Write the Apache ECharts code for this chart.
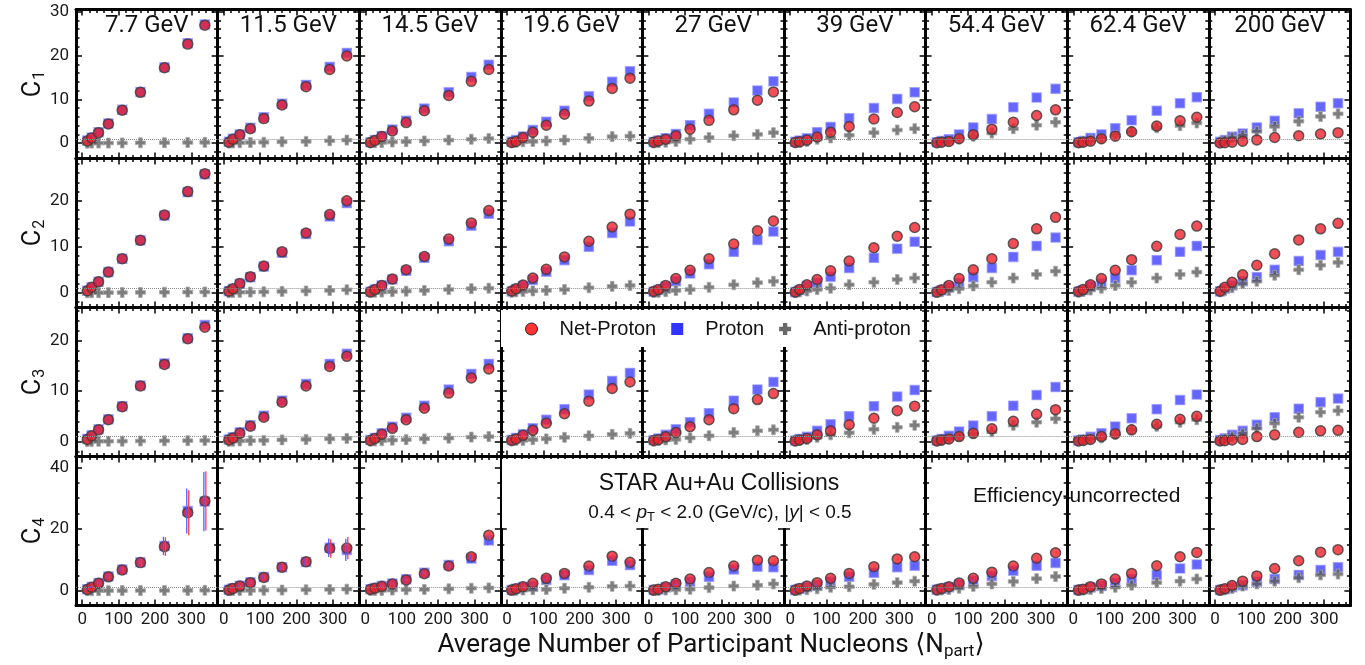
<!DOCTYPE html>
<html>
<head>
<meta charset="utf-8">
<title>STAR net-proton cumulants vs Npart</title>
<script src="https://cdn.jsdelivr.net/npm/echarts@6/dist/echarts.min.js"></script>
<style>
  html, body { margin: 0; padding: 0; background: #fff; }
  #chart { width: 1365px; height: 665px; }
</style>
</head>
<body>
<div id="chart"></div>
<script>
// collision energies (one column each)
const energies = ['7.7 GeV', '11.5 GeV', '14.5 GeV', '19.6 GeV', '27 GeV', '39 GeV', '54.4 GeV', '62.4 GeV', '200 GeV'];

// <Npart> for the 9 centralities (70-80% ... 0-5%)
const npart = [
  [14, 26, 45, 72, 110, 160, 226, 290, 337],
  [14, 25, 44, 73, 110, 160, 226, 291, 338],
  [14, 26, 45, 74, 112, 162, 229, 291, 339],
  [13, 25, 44, 71, 108, 158, 225, 289, 338],
  [14, 27, 47, 75, 114, 166, 234, 299, 343],
  [14, 26, 46, 74, 111, 162, 230, 294, 342],
  [14, 27, 47, 75, 114, 165, 224, 288, 340],
  [14, 27, 47, 77, 115, 160, 229, 293, 339],
  [14, 27, 47, 76, 115, 164, 230, 290, 338]
];

// C1
const netC1 = [
  [0.5, 1.2, 2.4, 4.4, 7.5, 11.6, 17.2, 22.6, 26.9],
  [0.2, 0.9, 1.9, 3.3, 5.6, 8.7, 12.9, 16.8, 19.9],
  [0.15, 0.6, 1.5, 2.8, 4.7, 7.4, 10.9, 14.1, 16.8],
  [0.15, 0.4, 1.3, 2.5, 4.1, 6.6, 9.6, 12.5, 14.8],
  [0.2, 0.5, 0.9, 1.7, 3.2, 5.2, 7.6, 9.8, 11.7],
  [0.15, 0.3, 0.7, 1.4, 2.5, 3.8, 5.5, 7.0, 8.3],
  [0.1, 0.2, 0.4, 1.0, 1.9, 3.2, 4.8, 6.3, 7.6],
  [0.1, 0.2, 0.45, 1.0, 1.6, 2.6, 3.9, 5.1, 5.9],
  [0.05, 0.1, 0.2, 0.45, 0.75, 1.3, 1.7, 2.1, 2.4]
];
const protC1 = [
  [0.6, 1.3, 2.5, 4.5, 7.6, 11.7, 17.3, 22.8, 27.1],
  [0.3, 1.0, 2.0, 3.5, 5.9, 9.0, 13.3, 17.4, 20.6],
  [0.2, 0.7, 1.6, 3.1, 5.1, 7.9, 11.6, 15.1, 17.9],
  [0.3, 0.7, 1.5, 3.0, 4.9, 7.4, 10.7, 14.0, 16.4],
  [0.25, 0.6, 1.1, 2.1, 4.1, 6.7, 9.3, 12.0, 14.1],
  [0.3, 0.6, 1.1, 2.5, 3.7, 5.7, 8.0, 10.1, 11.6],
  [0.2, 0.5, 0.9, 2.0, 3.6, 5.5, 8.2, 10.4, 12.4],
  [0.2, 0.5, 1.2, 2.0, 3.4, 5.2, 7.4, 9.1, 10.5],
  [0.3, 0.7, 1.5, 2.2, 3.6, 5.1, 6.8, 8.3, 9.1]
];
const antiC1 = [
  [0.0, 0.01, 0.02, 0.03, 0.05, 0.08, 0.12, 0.15, 0.18],
  [0.02, 0.05, 0.1, 0.15, 0.2, 0.3, 0.4, 0.55, 0.7],
  [0.05, 0.1, 0.15, 0.25, 0.35, 0.5, 0.7, 0.9, 1.05],
  [0.1, 0.2, 0.3, 0.4, 0.5, 0.7, 1.1, 1.5, 1.6],
  [0.05, 0.1, 0.2, 0.4, 0.9, 1.3, 1.7, 2.0, 2.4],
  [0.1, 0.2, 0.4, 0.9, 1.2, 1.8, 2.4, 3.0, 3.3],
  [0.1, 0.3, 0.5, 1.0, 1.6, 2.3, 3.3, 4.1, 4.8],
  [0.1, 0.3, 0.7, 1.0, 1.8, 2.6, 3.5, 4.0, 4.6],
  [0.25, 0.6, 1.3, 1.8, 2.7, 3.8, 5.0, 6.1, 6.7]
];

// C2
const netC2 = [
  [0.45, 1.2, 2.4, 4.5, 7.4, 11.4, 16.9, 22.0, 25.9],
  [0.35, 0.9, 2.0, 3.5, 5.8, 8.9, 13.0, 17.0, 20.0],
  [0.2, 0.7, 1.6, 3.0, 5.0, 7.9, 11.7, 15.2, 17.9],
  [0.4, 0.9, 1.7, 3.2, 5.1, 7.8, 11.2, 14.3, 17.1],
  [0.3, 0.7, 1.6, 3.1, 4.9, 7.4, 10.6, 13.5, 15.6],
  [0.15, 0.7, 1.75, 2.9, 4.8, 6.9, 9.8, 12.3, 14.2],
  [0.15, 0.65, 1.6, 3.1, 5.0, 7.4, 10.7, 13.9, 16.4],
  [0.3, 0.7, 1.75, 3.1, 4.9, 7.2, 10.1, 12.7, 14.5],
  [0.35, 1.2, 2.3, 3.9, 6.0, 8.5, 11.5, 13.9, 15.1]
];
const protC2 = [
  [0.45, 1.2, 2.4, 4.5, 7.4, 11.4, 16.8, 21.9, 25.8],
  [0.35, 0.85, 1.95, 3.4, 5.7, 8.7, 12.8, 16.6, 19.5],
  [0.2, 0.7, 1.6, 2.9, 4.8, 7.6, 11.2, 14.6, 17.2],
  [0.3, 0.8, 1.5, 2.8, 4.6, 7.1, 10.0, 13.0, 15.5],
  [0.25, 0.6, 1.3, 2.5, 4.2, 6.2, 8.9, 11.5, 13.3],
  [0.15, 0.6, 1.5, 2.2, 3.5, 5.4, 7.6, 9.6, 11.1],
  [0.15, 0.55, 1.2, 2.1, 3.4, 5.4, 7.8, 10.2, 12.0],
  [0.25, 0.6, 1.4, 2.0, 3.2, 4.9, 7.1, 8.9, 10.2],
  [0.3, 0.9, 1.6, 2.5, 3.4, 5.0, 6.9, 8.2, 8.9]
];
const antiC2 = [
  [0.0, 0.01, 0.02, 0.03, 0.05, 0.08, 0.12, 0.15, 0.18],
  [0.02, 0.05, 0.1, 0.15, 0.2, 0.3, 0.4, 0.5, 0.65],
  [0.05, 0.1, 0.15, 0.25, 0.35, 0.5, 0.7, 0.9, 1.0],
  [0.1, 0.2, 0.3, 0.4, 0.5, 0.7, 1.1, 1.4, 1.6],
  [0.05, 0.1, 0.25, 0.5, 0.7, 1.2, 1.75, 2.2, 2.5],
  [0.05, 0.2, 0.4, 0.7, 1.0, 1.75, 2.3, 2.9, 3.2],
  [0.1, 0.25, 0.5, 0.9, 1.5, 2.3, 3.2, 4.0, 4.7],
  [0.1, 0.3, 0.6, 1.0, 1.6, 2.3, 3.2, 4.0, 4.5],
  [0.2, 0.5, 1.1, 2.0, 2.5, 3.8, 5.0, 6.0, 6.6]
];

// C3
const netC3 = [
  [0.4, 1.1, 2.3, 4.3, 6.9, 11.0, 15.3, 20.4, 22.7],
  [0.3, 0.7, 1.6, 3.0, 4.8, 7.8, 11.0, 14.9, 16.9],
  [0.2, 0.6, 1.4, 2.6, 4.3, 6.6, 9.6, 12.6, 14.4],
  [0.2, 0.5, 1.2, 2.2, 3.6, 5.5, 8.0, 10.5, 11.8],
  [0.2, 0.35, 0.9, 1.75, 2.9, 4.3, 6.5, 8.3, 9.5],
  [0.1, 0.3, 0.6, 1.3, 2.1, 3.3, 4.6, 6.1, 7.0],
  [0.1, 0.3, 0.5, 0.95, 1.6, 2.5, 4.0, 5.4, 6.3],
  [0.1, 0.2, 0.4, 0.95, 1.5, 2.3, 3.4, 4.4, 5.0],
  [0.1, 0.15, 0.3, 0.4, 0.95, 1.3, 1.8, 2.1, 2.2]
];
const protC3 = [
  [0.5, 1.2, 2.4, 4.4, 7.0, 11.1, 15.5, 20.5, 23.1],
  [0.4, 0.8, 1.8, 3.2, 5.1, 8.1, 11.4, 15.4, 17.4],
  [0.3, 0.7, 1.6, 2.9, 4.7, 7.1, 10.3, 13.4, 15.4],
  [0.3, 0.7, 1.4, 2.6, 4.3, 6.4, 9.3, 12.0, 13.6],
  [0.25, 0.6, 1.3, 2.4, 3.8, 5.6, 8.1, 10.3, 11.8],
  [0.2, 0.5, 0.9, 2.1, 3.4, 5.0, 7.0, 8.9, 10.2],
  [0.2, 0.5, 1.1, 1.95, 3.15, 5.0, 7.1, 9.2, 10.8],
  [0.2, 0.4, 0.9, 1.6, 2.95, 4.6, 6.4, 8.2, 9.3],
  [0.3, 0.6, 1.3, 2.1, 3.3, 4.8, 6.5, 7.8, 8.5]
];
const antiC3 = [
  [0.0, 0.01, 0.02, 0.03, 0.05, 0.08, 0.12, 0.15, 0.18],
  [0.02, 0.05, 0.1, 0.15, 0.2, 0.3, 0.4, 0.5, 0.6],
  [0.05, 0.1, 0.15, 0.25, 0.35, 0.5, 0.65, 0.85, 0.95],
  [0.1, 0.2, 0.2, 0.35, 0.5, 0.8, 1.1, 1.4, 1.6],
  [0.05, 0.2, 0.3, 0.4, 0.7, 1.1, 1.75, 2.1, 2.3],
  [0.1, 0.2, 0.4, 0.8, 1.3, 1.7, 2.4, 2.8, 3.2],
  [0.1, 0.2, 0.5, 1.0, 1.5, 1.9, 3.2, 3.8, 4.5],
  [0.1, 0.2, 0.5, 0.7, 1.4, 2.3, 3.0, 3.8, 4.3],
  [0.2, 0.5, 0.9, 1.6, 2.6, 3.6, 4.8, 5.8, 6.1]
];

// C4
const netC4 = [
  [0.4, 1.1, 2.4, 4.5, 6.7, 9.1, 14.3, 25.3, 29.1],
  [0.2, 0.75, 1.5, 2.6, 4.3, 7.6, 9.4, 13.7, 13.8],
  [0.4, 0.8, 1.4, 2.2, 3.5, 5.5, 8.0, 11.0, 18.0],
  [0.2, 0.65, 1.3, 2.4, 4.0, 5.6, 8.0, 11.2, 9.2],
  [0.2, 0.45, 1.3, 2.4, 3.8, 5.9, 8.0, 9.9, 9.7],
  [0.2, 0.75, 1.5, 2.6, 4.0, 5.6, 7.8, 10.3, 11.0],
  [0.3, 0.7, 1.3, 2.5, 4.0, 6.0, 8.0, 10.5, 12.3],
  [0.2, 0.5, 1.3, 2.2, 3.8, 5.6, 8.1, 11.0, 12.4],
  [0.2, 0.65, 1.7, 3.1, 4.8, 7.2, 9.7, 12.5, 13.3]
];
const protC4 = [
  [0.5, 1.2, 2.5, 4.6, 6.9, 9.2, 14.5, 25.8, 28.9],
  [0.3, 0.8, 1.6, 2.7, 4.4, 7.6, 9.3, 13.9, 13.2],
  [0.5, 0.9, 1.5, 2.3, 3.7, 5.8, 8.3, 10.4, 16.3],
  [0.2, 0.6, 1.2, 1.5, 3.5, 5.0, 6.7, 9.7, 8.3],
  [0.2, 0.4, 1.1, 2.0, 2.9, 4.5, 6.9, 7.8, 7.6],
  [0.2, 0.6, 1.2, 1.8, 2.9, 4.5, 5.8, 7.6, 8.1],
  [0.3, 0.6, 1.1, 2.0, 3.2, 4.8, 6.5, 8.1, 9.0],
  [0.2, 0.45, 1.0, 1.5, 2.6, 3.7, 5.1, 7.2, 8.5],
  [0.2, 0.5, 1.1, 1.8, 2.9, 3.8, 5.1, 6.7, 7.6]
];
const antiC4 = [
  [0.0, 0.0, 0.01, 0.02, 0.03, 0.05, 0.08, 0.1, 0.12],
  [0.02, 0.05, 0.1, 0.1, 0.15, 0.2, 0.3, 0.4, 0.5],
  [0.05, 0.1, 0.1, 0.2, 0.3, 0.4, 0.6, 0.8, 0.9],
  [0.1, 0.15, 0.2, 0.3, 0.4, 0.8, 1.1, 1.4, 1.5],
  [0.05, 0.1, 0.2, 0.3, 0.45, 1.0, 1.5, 1.8, 2.2],
  [0.1, 0.2, 0.3, 0.6, 1.1, 1.3, 2.05, 2.6, 3.1],
  [0.05, 0.2, 0.4, 0.8, 1.4, 2.2, 3.0, 3.9, 4.6],
  [0.1, 0.2, 0.4, 0.75, 1.1, 1.8, 2.6, 3.1, 3.8],
  [0.1, 0.3, 0.7, 1.5, 2.2, 3.1, 4.2, 5.1, 5.4]
];
// statistical errors of C4 (net-proton and proton)
const c4Err = [
  [0.2, 0.3, 0.4, 0.6, 0.8, 1.2, 3.0, 7.3, 9.6],
  [0.1, 0.2, 0.3, 0.4, 0.6, 0.9, 1.2, 3.0, 3.6],
  [0.1, 0.1, 0.2, 0.3, 0.4, 0.6, 0.8, 1.2, 1.6],
  [0.1, 0.1, 0.2, 0.2, 0.3, 0.4, 0.5, 0.7, 0.8],
  [0.1, 0.1, 0.1, 0.2, 0.2, 0.3, 0.4, 0.5, 0.6],
  [0.1, 0.1, 0.1, 0.2, 0.2, 0.3, 0.3, 0.4, 0.5],
  [0.1, 0.1, 0.1, 0.1, 0.2, 0.2, 0.3, 0.4, 0.4],
  [0.1, 0.1, 0.1, 0.1, 0.2, 0.2, 0.3, 0.4, 0.4],
  [0.1, 0.1, 0.1, 0.1, 0.1, 0.2, 0.2, 0.3, 0.3]
];

// tick labels
const xTicks = [0, 100, 200, 300];
const yTicks = [[0, 10, 20, 30], [0, 10, 20], [0, 10, 20], [0, 20, 40]];

const rows = [
  [netC1, protC1, antiC1],
  [netC2, protC2, antiC2],
  [netC3, protC3, antiC3],
  [netC4, protC4, antiC4]
];

const FONT = 'Roboto, "DejaVu Sans", sans-serif';
const SANS = '"Liberation Sans", Arial, sans-serif';
const colLeft = 76, colW = 141.6, rowTop = 9.5, rowH = 149;
const xRange = [-17, 372];
const yRanges = [[-3.5, 30.5], [-3.2, 29.2], [-3.0, 26.6], [-4.8, 43.5]];
const yMinorStep = [2, 2, 2, 5];
const crossPath = 'path://M3.2,0H6.8V3.2H10V6.8H6.8V10H3.2V6.8H0V3.2H3.2Z';

function minorTicks(range, step, major) {
  const out = [];
  for (let v = Math.ceil(range[0] / step) * step; v <= range[1]; v += step) {
    if (major.indexOf(v) < 0) out.push(v);
  }
  return out;
}

function makeAxis(g, pos, range, ticks, len, line, labels) {
  const isX = pos === 'bottom' || pos === 'top';
  return {
    type: 'value', gridIndex: g, position: pos, min: range[0], max: range[1],
    splitLine: { show: false },
    axisLine: { show: line, onZero: false, lineStyle: { color: '#000', width: 3 } },
    axisTick: { show: true, inside: true, length: len, customValues: ticks, lineStyle: { color: '#000', width: 1.5 } },
    axisLabel: {
      show: labels, customValues: ticks, fontFamily: FONT, fontSize: 17, color: '#1a1a1a',
      margin: isX ? 6 : 7
    }
  };
}

const grid = [], xAxis = [], yAxis = [], series = [];
const xMinor = minorTicks(xRange, 20, xTicks);

rows.forEach((sets, r) => {
  const yr = yRanges[r];
  const yMinor = minorTicks(yr, yMinorStep[r], yTicks[r]);
  energies.forEach((en, c) => {
    const g = grid.length;
    grid.push({ left: colLeft + c * colW, top: rowTop + r * rowH, width: colW, height: rowH });
    const xi = xAxis.length, yi = yAxis.length;
    xAxis.push(
      makeAxis(g, 'bottom', xRange, xTicks, 6, true, r === 3),
      makeAxis(g, 'bottom', xRange, xMinor, 3.5, false, false),
      makeAxis(g, 'top', xRange, xTicks, 6, true, false),
      makeAxis(g, 'top', xRange, xMinor, 3.5, false, false)
    );
    yAxis.push(
      makeAxis(g, 'left', yr, yTicks[r], 6, true, c === 0),
      makeAxis(g, 'left', yr, yMinor, 3.5, false, false),
      makeAxis(g, 'right', yr, yTicks[r], 6, true, false),
      makeAxis(g, 'right', yr, yMinor, 3.5, false, false)
    );
    const [net, prot, anti] = sets;
    const pts = arr => npart[c].map((x, i) => [x, arr[c][i]]);
    series.push({
      name: 'Proton', type: 'scatter', xAxisIndex: xi, yAxisIndex: yi, z: 2,
      symbol: 'rect', symbolSize: 9, data: pts(prot),
      itemStyle: { color: 'rgba(30,30,255,0.85)', borderColor: 'rgba(120,120,255,0.75)', borderWidth: 1.5 },
      markLine: {
        silent: true, symbol: 'none', label: { show: false },
        lineStyle: { type: 'dotted', color: '#8c8c8c', width: 1 },
        data: [{ yAxis: 1 }]
      }
    });
    series.push({
      name: 'Anti-proton', type: 'scatter', xAxisIndex: xi, yAxisIndex: yi, z: 3,
      symbol: crossPath, symbolSize: 10, data: pts(anti),
      itemStyle: { color: '#5c5c5c', borderColor: '#a8a8a8', borderWidth: 1 }
    });
    series.push({
      name: 'Net-Proton', type: 'scatter', xAxisIndex: xi, yAxisIndex: yi, z: 4,
      symbol: 'circle', symbolSize: 10, data: pts(net),
      itemStyle: { color: '#f0202c', borderColor: '#3c3c3c', borderWidth: 1.5 }
    });
    if (r === 3) {
      [[prot, '#5a5aff', -1], [net, '#ff3a3a', 1]].forEach(([arr, col, dx]) => {
        series.push({
          type: 'custom', xAxisIndex: xi, yAxisIndex: yi, z: 5, silent: true,
          data: npart[c].map((x, i) => [x, arr[c][i], c4Err[c][i]]),
          renderItem: (params, api) => {
            const lo = api.coord([api.value(0), api.value(1) - api.value(2)]);
            const hi = api.coord([api.value(0), api.value(1) + api.value(2)]);
            return {
              type: 'line',
              shape: { x1: lo[0] + dx, y1: lo[1], x2: hi[0] + dx, y2: hi[1] },
              style: { stroke: col, lineWidth: 1.3 }
            };
          }
        });
      });
    }
  });
});

const graphic = [];
energies.forEach((en, c) => {
  graphic.push({
    type: 'text', x: colLeft + c * colW + colW / 2, y: 26, z: 10,
    style: { text: en, font: '24px ' + FONT, fill: '#111', align: 'center', verticalAlign: 'middle' }
  });
});
['1', '2', '3', '4'].forEach((n, r) => {
  graphic.push({
    type: 'text', x: 34, y: rowTop + r * rowH + rowH / 2, rotation: Math.PI / 2, z: 10,
    style: {
      text: '{c|C}{s|' + n + '}', align: 'center', verticalAlign: 'middle',
      rich: {
        c: { fontFamily: FONT, fontSize: 25, fill: '#111' },
        s: { fontFamily: FONT, fontSize: 16, fill: '#111', padding: [12, 0, 0, 1] }
      }
    }
  });
});
graphic.push({
  type: 'text', x: 711, y: 645, z: 10,
  style: {
    text: '{a|Average Number of Participant Nucleons \u27E8N}{s|part}{a|\u27E9}', align: 'center', verticalAlign: 'middle',
    rich: {
      a: { fontFamily: FONT, fontSize: 26, fill: '#111' },
      s: { fontFamily: FONT, fontSize: 17, fill: '#111', padding: [13, 0, 0, 0] }
    }
  }
});
graphic.push({
  type: 'rect', z: 9, shape: { x: 502, y: 459, width: 421, height: 69 },
  style: { fill: '#fff' }
});
graphic.push({
  type: 'text', x: 719, y: 484, z: 10,
  style: { text: 'STAR Au+Au Collisions', font: '23px ' + SANS, fill: '#111', align: 'center', verticalAlign: 'middle' }
});
graphic.push({
  type: 'text', x: 720, y: 513, z: 10,
  style: {
    text: '{a|0.4 < }{i|p}{s|T}{a| < 2.0 (GeV/c), |}{i|y}{a|| < 0.5}', align: 'center', verticalAlign: 'middle',
    rich: {
      a: { fontFamily: SANS, fontSize: 19, fill: '#111' },
      i: { fontFamily: SANS, fontSize: 19, fontStyle: 'italic', fill: '#111' },
      s: { fontFamily: SANS, fontSize: 13, fill: '#111', padding: [9, 0, 0, 0] }
    }
  }
});
graphic.push({
  type: 'text', x: 973, y: 496, z: 10,
  style: { text: 'Efficiency-uncorrected', font: '21px ' + SANS, fill: '#111', align: 'left', verticalAlign: 'middle' }
});

const chart = echarts.init(document.getElementById('chart'));
chart.setOption({
  animation: false,
  backgroundColor: '#fff',
  grid, xAxis, yAxis, series, graphic,
  legend: {
    left: 501, top: 310, padding: [9, 8, 8, 24], backgroundColor: '#fff',
    itemWidth: 12, itemHeight: 12, itemGap: 15, selectedMode: false,
    textStyle: { fontFamily: SANS, fontSize: 20, color: '#111', padding: [0, 0, 0, 17] },
    data: [
      { name: 'Net-Proton', icon: 'circle', itemStyle: { color: '#ff0000', borderColor: '#000', borderWidth: 1 }, textStyle: { width: 99 } },
      { name: 'Proton', icon: 'rect', itemStyle: { color: '#0000ff', borderWidth: 0 }, textStyle: { width: 59 } },
      { name: 'Anti-proton', icon: crossPath, itemStyle: { color: '#444', borderWidth: 0 }, textStyle: { width: 102 } }
    ]
  }
});
</script>
</body>
</html>
